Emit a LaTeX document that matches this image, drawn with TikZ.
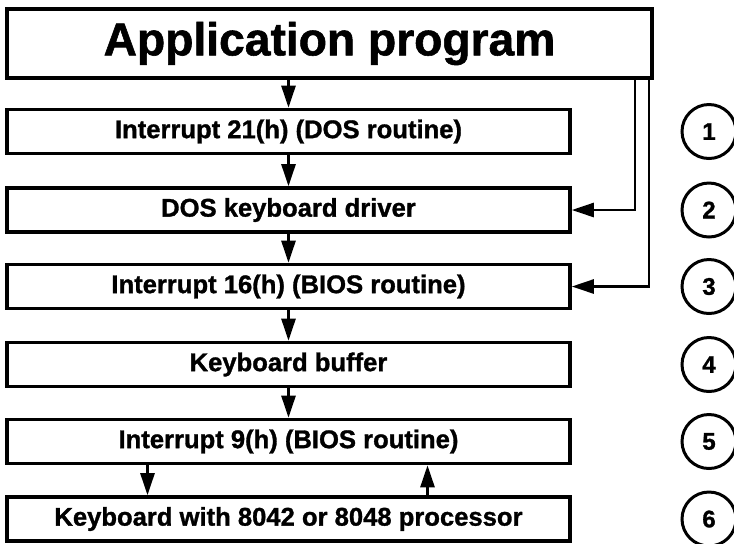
\documentclass[tikz,border=0pt]{standalone}
\usepackage{fontspec}
\setmainfont{Liberation Sans}[BoldFeatures={FakeBold=1.2}]
\usetikzlibrary{arrows.meta}

\begin{document}
\begin{tikzpicture}[x=0.5pt, y=-0.5pt, >={Triangle[length=11pt,width=7pt]},
box/.style={draw, line width=1.8pt, minimum width=281.5pt, minimum height=22pt, inner sep=0pt, align=center, font=\bfseries\fontsize{12.8}{14}\selectfont},
title/.style={draw, line width=1.8pt, minimum width=322.5pt, minimum height=34.5pt, inner sep=0pt, font=\bfseries\fontsize{23.1}{26}\selectfont},
num/.style={draw, circle, line width=1.5pt, minimum size=27pt, inner sep=0pt, font=\bfseries\fontsize{12}{14}\selectfont},
link/.style={->, line width=1.3pt}]
\useasboundingbox (0,0) rectangle (734,543);

\node[title] (app) at (329.5,43.5) {Application program};
\node[box] (int21) at (288.5,131.5) {Interrupt 21(h) (DOS routine)};
\node[box] (dosdrv) at (288.5,210) {DOS keyboard driver};
\node[box] (int16) at (288.5,286.5) {Interrupt 16(h) (BIOS routine)};
\node[box] (kbuf) at (288.5,364.5) {Keyboard buffer};
\node[box] (int9) at (288.5,441.5) {Interrupt 9(h) (BIOS routine)};
\node[box] (kbd) at (288.5,519) {Keyboard with 8042 or 8048 processor};

% level numbers
\foreach \n/\y in {1/131.5,2/210,3/286.5,4/364.5,5/441.5,6/519}
  \node[num] (lvl\n) at (709,\y) {\n};

\draw[link] (app.south -| int21.north) -- (int21.north);
\draw[link] (int21) -- (dosdrv);
\draw[link] (dosdrv) -- (int16);
\draw[link] (int16) -- (kbuf);
\draw[link] (kbuf) -- (int9);
\draw[link] ([xshift=-70.5pt]int9.south) -- ([xshift=-70.5pt]kbd.north);
\draw[link] ([xshift=69.5pt]kbd.north) -- ([xshift=69.5pt]int9.south);

% direct calls past the DOS routine
\draw[link] ([xshift=-9.5pt]app.south east) |- (dosdrv.east);
\draw[link] ([xshift=-2.5pt]app.south east) |- (int16.east);
\end{tikzpicture}
\end{document}
